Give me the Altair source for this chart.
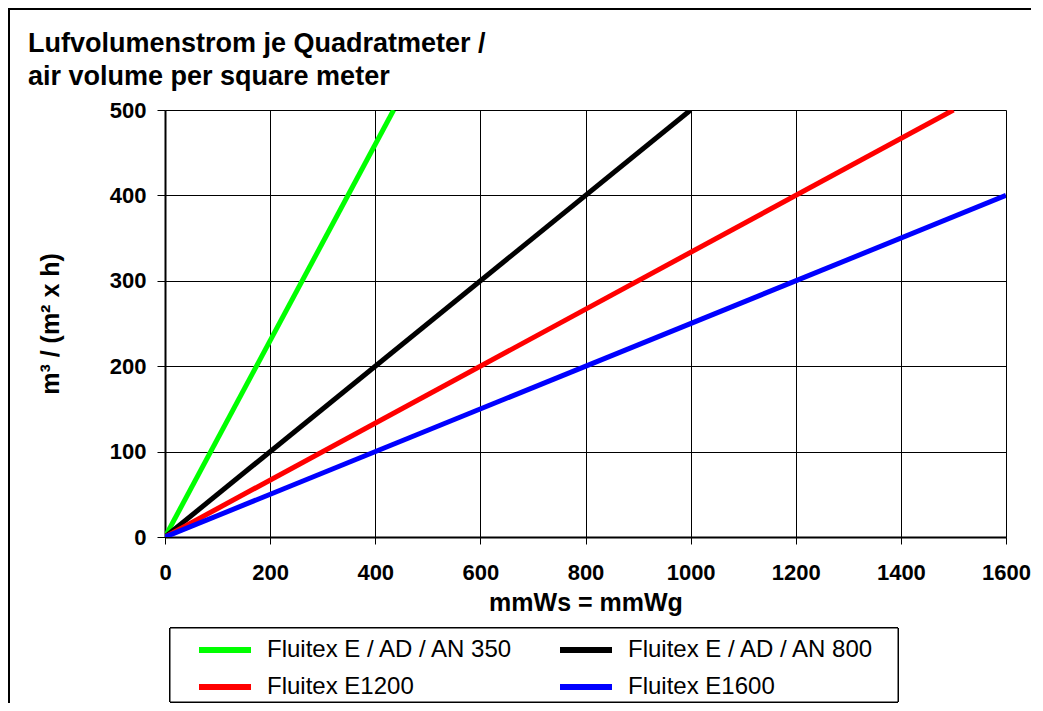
import altair as alt
import pandas as pd

# ---- data ----
series_names = ["Fluitex E / AD / AN 350", "Fluitex E / AD / AN 800", "Fluitex E1200", "Fluitex E1600"]
series_colors = ["#00FF00", "#000000", "#FF0000", "#0000FF"]
x_350 = [0, 435]
y_350 = [0, 500]
x_800 = [0, 1000]
y_800 = [0, 500]
x_1200 = [0, 1500]
y_1200 = [0, 500]
x_1600 = [0, 1600]
y_1600 = [0, 400]
x_ticks = [0, 200, 400, 600, 800, 1000, 1200, 1400, 1600]
y_ticks = [0, 100, 200, 300, 400, 500]
title_lines = ["Lufvolumenstrom je Quadratmeter /", "air volume per square meter"]

rows = []
for name, xs, ys in zip(series_names, [x_350, x_800, x_1200, x_1600], [y_350, y_800, y_1200, y_1600]):
    for i, (xv, yv) in enumerate(zip(xs, ys)):
        rows.append({"series": name, "x": xv, "y": yv, "order": i})
df = pd.DataFrame(rows)

W, H = 841, 427
PL, PT, PR, PB = 157, 102, 25, 166
FONT = "Liberation Sans"

lines = alt.Chart(df).mark_line(strokeWidth=5, clip=True).encode(
    x=alt.X("x:Q", scale=alt.Scale(domain=[0, 1600], nice=False),
            axis=alt.Axis(values=x_ticks, format="d", title="mmWs = mmWg", grid=True,
                          gridColor="black", gridWidth=1, gridOpacity=1, tickColor="black",
                          tickSize=7, tickWidth=1, domainColor="black", domainWidth=2,
                          labelFont=FONT, labelFontSize=22, labelFontWeight="bold",
                          labelColor="black", labelPadding=18, titleFont=FONT, titleFontSize=25,
                          titleFontWeight="bold", titleColor="black", titlePadding=7,
                          labelFlush=False)),
    y=alt.Y("y:Q", scale=alt.Scale(domain=[0, 500], nice=False),
            axis=alt.Axis(values=y_ticks, format="d", title="m³ / (m² x h)", grid=True,
                          gridColor="black", gridWidth=1, gridOpacity=1, tickColor="black",
                          tickSize=8, tickWidth=1, domainColor="black", domainWidth=2,
                          labelFont=FONT, labelFontSize=22, labelFontWeight="bold",
                          labelColor="black", labelPadding=11, titleFont=FONT, titleFontSize=25,
                          titleFontWeight="bold", titleColor="black", titlePadding=46,
                          labelFlush=False)),
    color=alt.Color("series:N", scale=alt.Scale(domain=series_names, range=series_colors),
                    legend=alt.Legend(title=None, orient="none", legendX=30, legendY=528,
                                      columns=2, direction="horizontal", padding=0,
                                      symbolType="M-1,0L5.5,0", symbolStrokeWidth=6,
                                      symbolSize=256, labelFont=FONT, labelFontSize=24,
                                      labelColor="black", labelOffset=48, columnPadding=34,
                                      rowPadding=13, labelLimit=400)),
    order="order:Q",
)

# chart frame (top and left edges) and legend box
border_top = alt.Chart(df).mark_rule(color="black", strokeWidth=2).encode(
    x=alt.value(-PL), x2=alt.value(W + PR), y=alt.value(-PT + 1)
)
border_left = alt.Chart(df).mark_rule(color="black", strokeWidth=2).encode(
    x=alt.value(-PL + 1), y=alt.value(-PT), y2=alt.value(H + PB)
)
legend_box = alt.Chart(df).mark_rect(fill="white", stroke="black", strokeWidth=1, clip=False).encode(
    x=alt.value(5), x2=alt.value(733), y=alt.value(518), y2=alt.value(592)
)
title_df = pd.DataFrame({"t": title_lines, "i": [0, 1]})
title1 = alt.Chart(title_df).transform_filter("datum.i == 0").mark_text(
    align="left", baseline="alphabetic", font=FONT, fontSize=27, fontWeight="bold", color="black"
).encode(text="t:N", x=alt.value(-137), y=alt.value(-58))
title2 = alt.Chart(title_df).transform_filter("datum.i == 1").mark_text(
    align="left", baseline="alphabetic", font=FONT, fontSize=27, fontWeight="bold", color="black"
).encode(text="t:N", x=alt.value(-137), y=alt.value(-25))

chart = alt.layer(border_top, border_left, legend_box, title1, title2, lines).properties(
    width=W, height=H,
    padding={"left": PL, "top": PT, "right": PR, "bottom": PB},
    autosize=alt.AutoSizeParams(type="none"),
).configure_view(stroke="black", strokeWidth=2).configure(background="white")

chart.save("out.html", embed_options={"renderer": "svg", "actions": False})
